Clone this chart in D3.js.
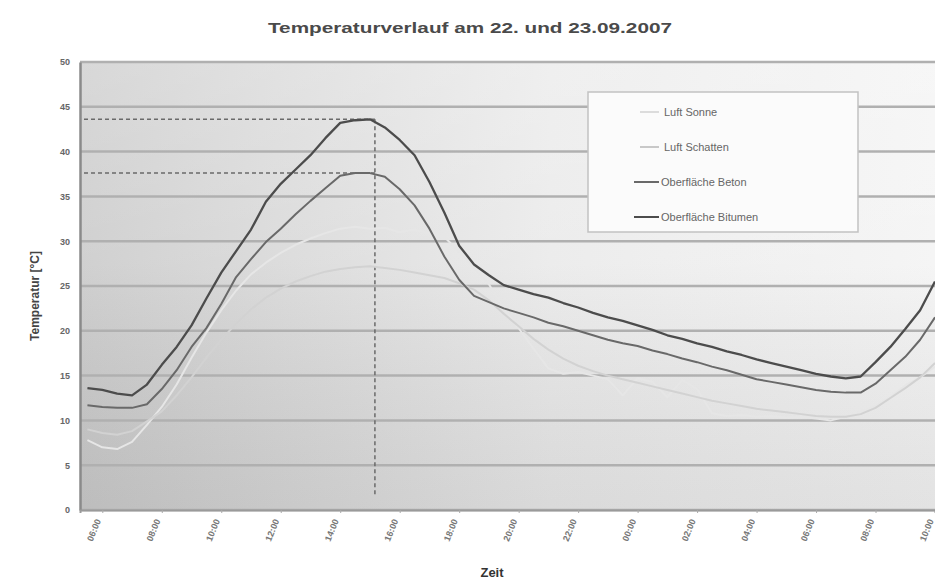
<!DOCTYPE html>
<html lang="de">
<head>
<meta charset="utf-8">
<title>Temperaturverlauf</title>
<script src="https://cdn.jsdelivr.net/npm/d3@7"></script>
<style>
  body { margin: 0; background: #fff; }
  text { font-family: "Liberation Sans", Arial, sans-serif; }
</style>
</head>
<body>
<script>
// Messzeitpunkte (halbstündlich)
var times = [
  "22.09 05:30","22.09 06:00","22.09 06:30","22.09 07:00","22.09 07:30","22.09 08:00",
  "22.09 08:30","22.09 09:00","22.09 09:30","22.09 10:00","22.09 10:30","22.09 11:00",
  "22.09 11:30","22.09 12:00","22.09 12:30","22.09 13:00","22.09 13:30","22.09 14:00",
  "22.09 14:30","22.09 15:00","22.09 15:30","22.09 16:00","22.09 16:30","22.09 17:00",
  "22.09 17:30","22.09 18:00","22.09 18:30","22.09 19:00","22.09 19:30","22.09 20:00",
  "22.09 20:30","22.09 21:00","22.09 21:30","22.09 22:00","22.09 22:30","22.09 23:00",
  "22.09 23:30","23.09 00:00","23.09 00:30","23.09 01:00","23.09 01:30","23.09 02:00",
  "23.09 02:30","23.09 03:00","23.09 03:30","23.09 04:00","23.09 04:30","23.09 05:00",
  "23.09 05:30","23.09 06:00","23.09 06:30","23.09 07:00","23.09 07:30","23.09 08:00",
  "23.09 08:30","23.09 09:00","23.09 09:30","23.09 10:00"
];

var luftSonne = [
  7.8, 7.0, 6.8, 7.6, 9.5, 11.5, 14.0, 17.0, 19.8, 22.3, 24.5, 26.3,
  27.6, 28.7, 29.6, 30.3, 30.9, 31.4, 31.6, 31.4, 31.5, 31.0, 31.3, 30.8,
  30.5, 28.8, 27.0, 25.2, 22.5, 20.3, 18.0, 15.8, 15.2, 15.4, 15.0, 14.6,
  12.8, 14.7, 14.3, 12.6, 14.5, 13.5, 10.8, 10.5, 10.6, 10.4, 10.5, 10.3,
  10.4, 10.2, 10.0, 10.4, 11.0, 11.6, 12.6, 13.9, 14.8, 16.0
];
var luftSchatten = [
  9.0, 8.6, 8.4, 8.8, 9.9, 11.0, 12.8, 14.8, 17.0, 19.0, 20.8, 22.4,
  23.7, 24.7, 25.5, 26.1, 26.6, 26.9, 27.1, 27.2, 27.0, 26.8, 26.5, 26.2,
  25.9, 25.3, 24.6, 23.4, 21.9, 20.5, 19.1, 17.9, 16.9, 16.1, 15.5, 15.0,
  14.6, 14.2, 13.8, 13.4, 13.0, 12.6, 12.2, 11.9, 11.6, 11.3, 11.1, 10.9,
  10.7, 10.5, 10.4, 10.4, 10.7, 11.4, 12.5, 13.6, 14.8, 16.4
];
var oberBeton = [
  11.7, 11.5, 11.4, 11.4, 11.8, 13.5, 15.6, 18.2, 20.3, 23.0, 26.0, 28.0,
  29.9, 31.4, 33.0, 34.5, 35.9, 37.3, 37.6, 37.6, 37.2, 35.8, 34.0, 31.4,
  28.3, 25.7, 23.9, 23.2, 22.5, 22.0, 21.5, 20.9, 20.5, 20.0, 19.5, 19.0,
  18.6, 18.3, 17.8, 17.4, 16.9, 16.5, 16.0, 15.6, 15.1, 14.6, 14.3, 14.0,
  13.7, 13.4, 13.2, 13.1, 13.1, 14.1, 15.6, 17.1, 19.0, 21.5
];
var oberBitumen = [
  13.6, 13.4, 13.0, 12.8, 14.0, 16.2, 18.2, 20.6, 23.6, 26.5, 28.9, 31.3,
  34.4, 36.4, 38.0, 39.6, 41.5, 43.2, 43.5, 43.6, 42.7, 41.3, 39.6, 36.6,
  33.2, 29.5, 27.4, 26.2, 25.1, 24.6, 24.1, 23.7, 23.1, 22.6, 22.0, 21.5,
  21.1, 20.6, 20.1, 19.5, 19.1, 18.6, 18.2, 17.7, 17.3, 16.8, 16.4, 16.0,
  15.6, 15.2, 14.9, 14.7, 14.9, 16.5, 18.2, 20.2, 22.3, 25.5
];

var seriesNames = ["Luft Sonne", "Luft Schatten", "Oberfläche Beton", "Oberfläche Bitumen"];
var yTicks = [0, 5, 10, 15, 20, 25, 30, 35, 40, 45, 50];
var xTickLabels = ["06:00","08:00","10:00","12:00","14:00","16:00","18:00","20:00",
                   "22:00","00:00","02:00","04:00","06:00","08:00","10:00"];
var peakTime = "22.09 15:10";

var w = 935, h = 582;
var parse = d3.timeParse("%d.%m.%Y %H:%M");
function t(s) { return parse(s.slice(0, 5) + ".2007" + s.slice(5)); }

var pLeft = 80, pRight = 935, pTop = 62, pBottom = 510;

var x = d3.scaleTime()
    .domain([t("22.09 05:15"), t("23.09 10:00")])
    .range([pLeft, pRight]);
var y = d3.scaleLinear().domain([0, 50]).range([pBottom, pTop]);

var svg = d3.select("body").append("svg")
    .attr("width", w)
    .attr("height", h);

var defs = svg.append("defs");
var gH = defs.append("linearGradient").attr("id", "bgH")
    .attr("x1", 0).attr("x2", 1).attr("y1", 0).attr("y2", 0);
gH.append("stop").attr("offset", "0%").attr("stop-color", "#cbcbcb");
gH.append("stop").attr("offset", "55%").attr("stop-color", "#eaeaea");
gH.append("stop").attr("offset", "100%").attr("stop-color", "#f4f4f4");
var gV = defs.append("linearGradient").attr("id", "bgV")
    .attr("x1", 0).attr("x2", 0).attr("y1", 0).attr("y2", 1);
gV.append("stop").attr("offset", "0%").attr("stop-color", "#fff").attr("stop-opacity", 0.25);
gV.append("stop").attr("offset", "45%").attr("stop-color", "#fff").attr("stop-opacity", 0.1);
gV.append("stop").attr("offset", "100%").attr("stop-color", "#000").attr("stop-opacity", 0.07);
defs.append("clipPath").attr("id", "plot")
  .append("rect").attr("x", pLeft).attr("y", pTop - 2)
    .attr("width", pRight - pLeft).attr("height", pBottom - pTop + 2);

// plot background
svg.append("rect").attr("x", pLeft).attr("y", pTop)
    .attr("width", pRight - pLeft).attr("height", pBottom - pTop)
    .attr("fill", "url(#bgH)");
svg.append("rect").attr("x", pLeft).attr("y", pTop)
    .attr("width", pRight - pLeft).attr("height", pBottom - pTop)
    .attr("fill", "url(#bgV)");

// gridlines
svg.append("g").selectAll("line")
    .data(yTicks)
    .enter().append("line")
    .attr("x1", pLeft).attr("x2", pRight)
    .attr("y1", function(d) { return y(d); })
    .attr("y2", function(d) { return y(d); })
    .attr("stroke", "#b0b0b0")
    .attr("stroke-width", 2.5);

// title
svg.append("text")
    .attr("x", 470).attr("y", 33)
    .attr("text-anchor", "middle")
    .attr("font-size", "15px").attr("font-weight", "bold")
    .attr("fill", "#4a4a4a")
    .attr("textLength", 404).attr("lengthAdjust", "spacingAndGlyphs")
    .text("Temperaturverlauf am 22. und 23.09.2007");

// y axis
var yAxis = svg.append("g")
    .attr("transform", "translate(" + pLeft + ",0)")
    .call(d3.axisLeft(y).tickValues(yTicks).tickSize(0).tickPadding(10));
yAxis.select(".domain").attr("stroke", "#8a8a8a").attr("stroke-width", 2.5);
yAxis.selectAll("text")
    .attr("font-size", "9px").attr("font-weight", "bold").attr("fill", "#666")
    .attr("font-family", "Liberation Sans, Arial, sans-serif");

svg.append("text")
    .attr("transform", "translate(39," + 296 + ") rotate(-90)")
    .attr("text-anchor", "middle")
    .attr("font-size", "12px").attr("font-weight", "bold")
    .attr("fill", "#444")
    .text("Temperatur [°C]");

// x axis
var tickTimes = d3.timeHour.every(2).range(t("22.09 06:00"), t("23.09 10:01"));
var xAxis = svg.append("g")
    .attr("transform", "translate(0," + pBottom + ")")
    .call(d3.axisBottom(x).tickValues(tickTimes).tickSize(3)
      .tickFormat(function(d, i) { return xTickLabels[i]; }));
xAxis.select(".domain").attr("stroke", "#9a9a9a").attr("stroke-width", 2);
xAxis.selectAll(".tick line").attr("stroke", "#aaa");
xAxis.selectAll("text")
    .attr("font-size", "9px").attr("font-weight", "bold").attr("fill", "#777")
    .attr("font-family", "Liberation Sans, Arial, sans-serif")
    .attr("text-anchor", "end")
    .attr("dy", "0.3em")
    .attr("transform", "translate(-2,4) rotate(-68)")
    .attr("x", -6).attr("y", 0);

svg.append("text")
    .attr("x", 492).attr("y", 577)
    .attr("text-anchor", "middle")
    .attr("font-size", "13px").attr("font-weight", "bold")
    .attr("fill", "#333")
    .text("Zeit");

// peak reference lines
var px = x(t(peakTime));
var peaks = [d3.max(oberBitumen), d3.max(oberBeton)];
var ref = svg.append("g").attr("stroke", "#6a6a6a").attr("stroke-width", 1.5)
    .attr("stroke-dasharray", "4,3");
ref.selectAll("line.h").data(peaks).enter().append("line")
    .attr("x1", pLeft + 4).attr("x2", px)
    .attr("y1", function(d) { return y(d); })
    .attr("y2", function(d) { return y(d); });
ref.append("line")
    .attr("x1", px).attr("x2", px)
    .attr("y1", y(peaks[0])).attr("y2", y(1.6));

// series lines
var data = times.map(function(s, i) {
  return { time: t(s), v: [luftSonne[i], luftSchatten[i], oberBeton[i], oberBitumen[i]] };
});
var colors = ["#e6e6e6", "#d2d2d2", "#696969", "#4c4c4c"];
var widths = [2, 2, 2, 2.3];

var lines = svg.append("g").attr("clip-path", "url(#plot)");
seriesNames.forEach(function(name, k) {
  var line = d3.line()
      .x(function(d) { return x(d.time); })
      .y(function(d) { return y(d.v[k]); });
  lines.append("path")
      .datum(data)
      .attr("fill", "none")
      .attr("stroke", colors[k])
      .attr("stroke-width", widths[k])
      .attr("stroke-linejoin", "round")
      .attr("d", line);
});

// legend
var lg = svg.append("g");
lg.append("rect")
    .attr("x", 588).attr("y", 92).attr("width", 270).attr("height", 140)
    .attr("fill", "#fbfbfb").attr("stroke", "#c2c2c2").attr("stroke-width", 1.5);
var items = lg.selectAll("g.item")
    .data(seriesNames)
    .enter().append("g")
    .attr("transform", function(d, i) { return "translate(0," + (112 + i * 35) + ")"; });
items.append("line")
    .attr("x1", function(d, i) { return i < 2 ? 640 : 634; })
    .attr("x2", 659)
    .attr("stroke", function(d, i) { return i < 2 ? ["#dcdcdc", "#c8c8c8"][i] : colors[i]; })
    .attr("stroke-width", 2);
items.append("text")
    .attr("x", function(d, i) { return i < 2 ? 664 : 661; })
    .attr("dy", "0.35em")
    .attr("font-size", "11px")
    .attr("fill", "#666")
    .text(function(d) { return d; });
</script>
</body>
</html>
